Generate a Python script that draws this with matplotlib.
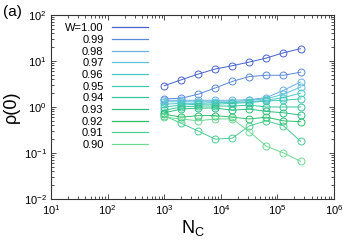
import numpy as np
import matplotlib
matplotlib.use("Agg")
import matplotlib.pyplot as plt
from matplotlib.lines import Line2D
from matplotlib.ticker import LogLocator, LogFormatterMathtext, NullFormatter

plt.rcParams["font.family"] = "Liberation Sans"
plt.rcParams["mathtext.default"] = "regular"
plt.rcParams["font.size"] = 8

# data
n_c = [1000, 2000, 4000, 8000, 16000, 32000, 64000, 128000, 256000]
w_labels = ["W=1.00", "0.99", "0.98", "0.97", "0.96", "0.95",
            "0.94", "0.93", "0.92", "0.91", "0.90"]
rho_100 = [2.9, 3.9, 5.2, 6.7, 7.9, 9.5, 11.6, 15.1, 18.5]
rho_099 = [1.5, 1.55, 1.9, 2.6, 3.6, 4.6, 4.9, 4.9, 5.7]
rho_098 = [1.4, 1.4, 1.4, 1.4, 1.4, 1.45, 1.6, 2.3, 3.5]
rho_097 = [1.3, 1.3, 1.3, 1.3, 1.3, 1.4, 1.5, 1.9, 2.7]
rho_096 = [1.15, 1.2, 1.2, 1.25, 1.25, 1.3, 1.4, 1.6, 2.0]
rho_095 = [1.0, 1.1, 1.15, 1.15, 1.2, 1.25, 1.35, 1.4, 1.5]
rho_094 = [0.85, 1.0, 1.05, 1.05, 1.05, 1.1, 1.0, 1.0, 1.0]
rho_093 = [0.75, 0.9, 0.95, 0.95, 0.85, 0.9, 0.8, 0.75, 0.67]
rho_092 = [0.7, 0.6, 0.65, 0.65, 0.6, 0.55, 0.6, 0.5, 0.48]
rho_091 = [0.65, 0.44, 0.3, 0.2, 0.21, 0.39, 0.5, 0.39, 0.18]
rho_090 = [0.6, 0.55, 0.5, 0.55, 0.55, 0.29, 0.14, 0.10, 0.066]
series = [rho_100, rho_099, rho_098, rho_097, rho_096, rho_095,
          rho_094, rho_093, rho_092, rho_091, rho_090]
colors = ["#4664cc", "#5a8ad8", "#6aaee2", "#5ec2da", "#4cc8c8", "#42c8b2",
          "#38c49c", "#2cbe7e", "#2cbe6c", "#4acc92", "#6ed892"]

fig = plt.figure(figsize=(3.56, 2.49), dpi=100)
ax = fig.add_axes([0.1433, 0.2008, 0.7950, 0.7390])

for vals, c in zip(series, colors):
    ax.plot(n_c, vals, color=c, lw=0.7, marker="o", ms=5, mfc="none",
            mec=c, mew=0.7)

ax.set_xscale("log")
ax.set_yscale("log")
ax.set_xlim(10, 1e6)
ax.set_ylim(1e-2, 1e2)

for a in (ax.xaxis, ax.yaxis):
    a.set_major_locator(LogLocator(base=10, numticks=10))
    a.set_major_formatter(LogFormatterMathtext())
    a.set_minor_locator(LogLocator(base=10, subs=np.arange(2, 10), numticks=10))
    a.set_minor_formatter(NullFormatter())
ax.tick_params(which="both", direction="in", top=True, right=True,
               labelsize=8, color="#333333", width=0.6)
ax.tick_params(which="major", length=3.5, pad=3)
ax.tick_params(which="minor", length=2)
for s in ax.spines.values():
    s.set_linewidth(0.8)
    s.set_color("#333333")

ax.set_xlabel("N$_C$", fontsize=13, labelpad=1)
ax.set_ylabel("ρ(0)", fontsize=13, labelpad=3)
fig.text(0.008, 0.952, "(a)", fontsize=11, ha="left", va="center")

handles = [Line2D([], [], color=c, lw=0.9) for c in colors]
ax.legend(handles, w_labels, loc="upper left", bbox_to_anchor=(0.03, 0.985),
          frameon=False, markerfirst=False, handlelength=3.2,
          handletextpad=0.8, labelspacing=0.15, borderpad=0, fontsize=8)

fig.savefig("out.png", dpi=100)
